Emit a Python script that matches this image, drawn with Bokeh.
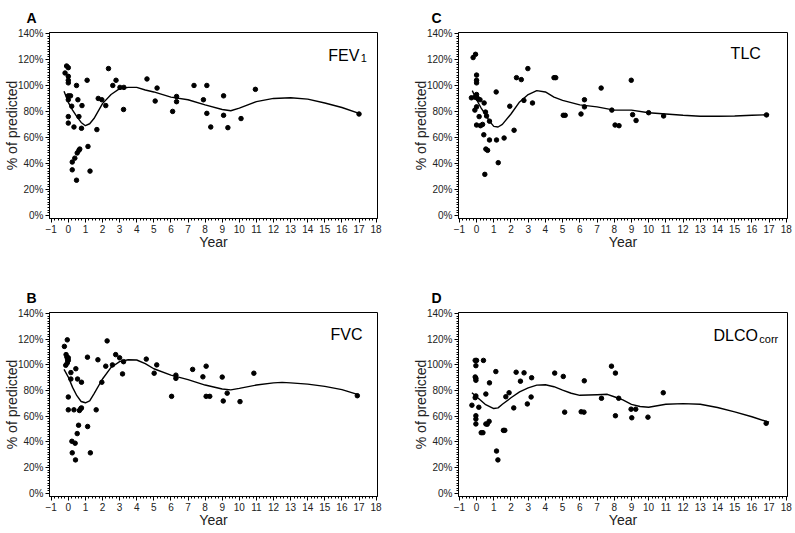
from bokeh.plotting import figure
from bokeh.layouts import column, row
from bokeh.models import FixedTicker, PrintfTickFormatter, Label, Range1d, Title
from bokeh.embed import file_html
from bokeh.resources import INLINE

# ---- axis ticks ----
x_ticks = list(range(-1, 19))
x_minor = [round(-1 + 0.2 * i, 1) for i in range(96)]
y_ticks = [0, 20, 40, 60, 80, 100, 120, 140]
y_minor = list(range(0, 141, 2))

# ---- A: FEV1 ----
fev_year = [-0.19, -0.1, 0, 0, 0, 0, 0, 0.13, 0, 0, 0, 0.2, 0.33, 0.48, 0.56, 0.62, 0.77, 0.8,
            1.1, 1.15, 1.27, 0.23, 0.23, 0.38, 0.48, 0.52, 0.62, 0.67, 1.67, 1.75, 1.96, 2.19,
            2.35, 2.6, 2.79, 3.02, 3.25, 3.23, 4.6, 5.08, 5.19, 6.1, 6.33, 6.33, 7.35, 7.9,
            8.1, 8.1, 8.33, 9.08, 9.08, 9.33, 10.1, 10.94, 17.0]
fev_pct = [109.6, 115, 113.7, 107, 104, 102, 92, 92, 89, 76, 71, 84, 68, 100, 89, 76, 67, 84.5,
           104, 53, 34, 41, 35, 44, 27, 48, 50, 51, 66, 90, 89, 84.5,
           113, 100, 104, 98.5, 98.5, 81.5, 105, 88, 98, 80, 91.5, 87.5, 100, 89,
           100, 78.5, 68, 92, 77, 67.5, 74.5, 97, 78]
fev_fit_year = [-0.25, 0, 0.25, 0.5, 0.75, 1, 1.25, 1.5, 2, 2.5, 3, 3.5, 4, 4.5, 5, 6, 7, 8, 9,
                9.5, 10, 11, 12, 13, 14, 15, 16, 17]
fev_fit_pct = [95.5, 87, 81, 76, 71.5, 69, 70.5, 74.5, 86, 93, 97.5, 98.5, 98.5, 96.5, 95, 91,
               89, 85, 81.5, 80.5, 82.5, 87.5, 90, 90.5, 89.5, 86.5, 83, 78.5]

# ---- B: FVC ----
fvc_year = [-0.23, -0.06, -0.15, -0.13, -0.08, -0.04, -0.06, 0, 0, 0, 0, 0.15, 0.15, 0.33, 0.44,
            0.54, 0.77, 0.6, 0.21, 0.23, 0.4, 0.52, 0.42, 0.65, 0.73, 0.77, 1.12, 1.13, 1.29,
            1.63, 1.73, 1.96, 2.19, 2.27, 2.58, 2.77, 3.0, 3.17, 3.23, 4.56, 5.02, 5.17, 6.04,
            6.29, 6.29, 7.27, 7.87, 8.06, 8.06, 8.27, 9.0, 9.06, 9.29, 10.04, 10.85, 16.9]
fvc_pct = [114.4, 119.5, 99.7, 108, 106, 104, 101.5, 105.5, 103.5, 75, 65, 94, 89, 65, 97,
           89, 86.5, 53, 40.5, 31.5, 39, 46.5, 26, 64.5, 66, 66.5, 106, 52, 31.5,
           65, 104, 86.5, 99, 118.7, 100, 108, 105.5, 93, 102.5, 104.5, 93.5, 100, 75.5,
           92, 89.5, 96.5, 90.7, 99, 75.5, 75.5, 90.5, 71.9, 78, 71.4, 93.5, 76]
fvc_fit_year = [-0.25, 0, 0.25, 0.5, 0.75, 1, 1.25, 1.5, 2, 2.5, 3, 3.5, 4, 4.5, 5, 6, 7, 8, 9,
                9.5, 10, 11, 12, 12.5, 13, 14, 15, 16, 17]
fvc_fit_pct = [96.5, 90.5, 82.5, 76, 71.5, 70.5, 72, 77.5, 89, 98, 102.5, 104, 103.8, 101, 97,
               92, 88.5, 84.3, 81.2, 80.5, 81.7, 84.3, 86, 86.4, 86, 85, 83.3, 80.7, 76.6]

# ---- C: TLC ----
tlc_year = [-0.2, -0.06, 0, 0, 0, -0.3, -0.1, 0, 0.06, 0.2, -0.1, 0, 0, 0.15, 0.23, 0.35, 0.42,
            0.44, 0.52, 0.58, 0.75, 0.75, 0.54, 0.64, 0.48, 1.14, 1.16, 1.26, 1.6, 1.93, 2.18,
            2.32, 2.6, 2.75, 2.98, 3.25, 4.5, 4.6, 5.04, 5.15, 6.07, 6.27, 6.27, 7.24, 7.86,
            8.05, 8.28, 8.99, 9.07, 9.27, 10.0, 10.87, 16.85]
tlc_pct = [121.5, 124, 108, 104, 102, 90.5, 91, 93, 90, 89, 81, 83.5, 69.5, 76, 69, 70, 62,
           86.5, 79.5, 76.5, 72.5, 58, 51, 50, 31.5, 95, 58, 40.5, 59.5, 84, 65.5,
           106, 104.5, 88.5, 113, 86.5, 106, 106, 77, 77, 78, 89, 83.5, 98, 81,
           69.5, 69, 104, 77.5, 73, 79, 76.5, 77.3]
tlc_fit_year = [-0.25, 0, 0.25, 0.5, 0.75, 1, 1.25, 1.5, 2, 2.5, 3, 3.5, 4, 4.5, 5, 6, 7, 8, 9,
                10, 11, 12, 13, 14, 15, 16, 17]
tlc_fit_pct = [96, 89, 83, 78, 72.5, 68.5, 68, 70, 78, 87.3, 93, 96, 95, 91, 88.5, 85, 83.5,
               81, 81, 79, 78, 77, 76.3, 76.3, 76.5, 77, 77.5]

# ---- D: DLCOcorr ----
dlco_year = [-0.27, -0.08, 0, -0.04, -0.08, -0.04, -0.04, -0.08, -0.04, -0.04, -0.04, -0.04,
             0.13, 0.27, 0.37, 0.4, 0.54, 0.54, 0.62, 0.75, 0.73, 1.12, 1.16, 1.24, 1.56, 1.64,
             1.7, 1.89, 2.16, 2.3, 2.55, 2.76, 2.95, 3.2, 3.17, 4.54, 5.04, 5.12, 6.08, 6.24,
             6.26, 7.26, 7.84, 8.07, 8.07, 8.26, 8.98, 9.02, 9.25, 9.96, 10.85, 16.83]
dlco_pct = [68.6, 103.5, 103.5, 99.4, 90.6, 89.6, 88, 74.5, 75.8, 60.4, 57.8, 54,
            67, 47.2, 47.2, 103.5, 77.3, 54, 53.8, 86, 56, 94.8, 32.9, 26, 49, 49,
            75.2, 78.3, 66.5, 94.3, 87.3, 93.8, 69.6, 90, 75, 93.6, 91, 63.2, 63.5, 63.2,
            87.6, 74, 99, 93.6, 60.4, 74, 65.5, 58.8, 65.5, 59.3, 78.3, 54.5]
dlco_fit_year = [-0.27, 0, 0.5, 1, 1.25, 1.5, 2, 2.5, 3, 3.5, 4, 4.5, 5, 5.5, 6, 7, 7.6, 8,
                 8.5, 9, 9.5, 10, 11, 12, 13, 14, 15, 16, 17]
dlco_fit_pct = [78.3, 75.2, 69.3, 66, 66.5, 69.3, 74.4, 79, 82.1, 84.2, 84.5, 83, 80.4, 77.9,
                76.3, 76.8, 77.1, 75.2, 72.7, 69.3, 67.6, 67, 69.3, 69.8, 69.3, 66.8, 63.4,
                59.6, 55.3]

FONT = "Liberation Sans"
TXT = "#222222"


def panel(letter, name, sub, yr, pct, fyr, fpct, w, h, bl, br, bt, bb, xr,
          name_x, name_y, letter_off):
    p = figure(width=w, height=h, x_range=Range1d(*xr), y_range=Range1d(-2.5, 140.8),
               output_backend="svg", toolbar_location=None,
               min_border_left=bl, min_border_right=br, min_border_top=bt,
               min_border_bottom=bb)
    p.xgrid.visible = False
    p.ygrid.visible = False
    p.outline_line_color = "black"
    p.outline_line_width = 1
    p.outline_line_alpha = 1
    p.background_fill_color = "white"
    p.border_fill_color = "white"

    p.xaxis.ticker = FixedTicker(ticks=x_ticks, minor_ticks=x_minor)
    p.yaxis.ticker = FixedTicker(ticks=y_ticks, minor_ticks=y_minor)
    p.yaxis.formatter = PrintfTickFormatter(format="%d%%")
    for ax in (p.xaxis, p.yaxis):
        ax.axis_line_color = "black"
        ax.major_tick_line_color = "black"
        ax.minor_tick_line_color = "black"
        ax.major_tick_in = 0
        ax.major_tick_out = 4
        ax.minor_tick_in = 0
        ax.minor_tick_out = 2
        ax.major_label_text_font = FONT
        ax.major_label_text_font_size = "10px"
        ax.major_label_text_color = TXT
        ax.major_label_standoff = 2
        ax.axis_label_text_font = FONT
        ax.axis_label_text_font_size = "14px"
        ax.axis_label_text_font_style = "normal"
        ax.axis_label_text_color = TXT
    p.xaxis.axis_label = "Year"
    p.xaxis.axis_label_standoff = -2
    p.yaxis.axis_label = "% of predicted"
    p.yaxis.axis_label_standoff = -5

    p.line(fyr, fpct, line_color="black", line_width=1.4)
    p.scatter(yr, pct, marker="circle", size=4.5, fill_color="black", line_color="black")

    # panel letter as a title above the frame
    t = Title(text=letter, align="left", offset=letter_off, standoff=14,
              text_font=FONT, text_font_size="14px", text_font_style="bold",
              text_color="black")
    p.add_layout(t, "above")

    # series name with subscript (inside the frame)
    p.add_layout(Label(x=name_x, y=name_y, text=name, text_font=FONT, text_font_size="16px",
                       text_color="black", text_align="right", text_baseline="alphabetic"))
    if sub:
        p.add_layout(Label(x=name_x + 0.08, y=name_y - 2.4, text=sub, text_font=FONT,
                           text_font_size="11px", text_color="black", text_align="left",
                           text_baseline="alphabetic"))
    return p


pA = panel("A", "FEV", "1", fev_year, fev_pct, fev_fit_year, fev_fit_pct,
           408, 276, 45, 31, 32, 58, (-1.1, 18.08), 17.02, 123.3, -23)
pC = panel("C", "TLC", "", tlc_year, tlc_pct, tlc_fit_year, tlc_fit_pct,
           387, 276, 50, 8, 32, 58, (-1.05, 18.07), 16.52, 124.8, -27)
pB = panel("B", "FVC", "", fvc_year, fvc_pct, fvc_fit_year, fvc_fit_pct,
           408, 254, 45, 31, 36, 32, (-1.1, 18.08), 17.2, 123.3, -23)
pD = panel("D", "DLCO", "corr", dlco_year, dlco_pct, dlco_fit_year, dlco_fit_pct,
           387, 254, 50, 8, 36, 32, (-1.05, 18.07), 16.35, 122.5, -27)

layout = column(row(pA, pC), row(pB, pD))

with open("out.html", "w") as f:
    f.write(file_html(layout, INLINE))
